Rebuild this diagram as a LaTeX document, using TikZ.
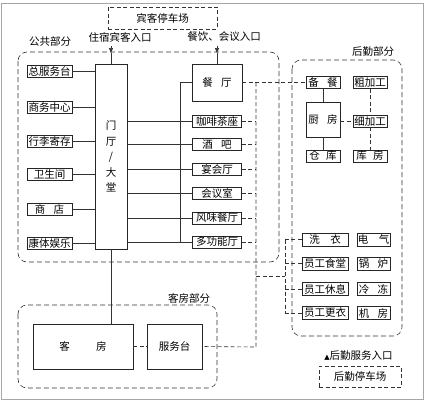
\documentclass[tikz,border=0pt]{standalone}
\usepackage{fontspec}
\newfontfamily\cjk{Noto Sans CJK SC}
\newfontfamily\symfont{DejaVu Sans}
\usetikzlibrary{arrows.meta}

\tikzset{
  unitbox/.style={draw=black!85, line width=0.6pt, inner sep=0pt, font=\cjk\fontsize{10.5}{12}\selectfont},
  lbox/.style={unitbox, minimum width=45pt, minimum height=12pt},
  rbox/.style={unitbox, minimum width=49pt, minimum height=12pt},
  kbox/.style={unitbox, minimum width=34pt, minimum height=12pt},
  wbox/.style={unitbox, minimum width=46pt, minimum height=13pt},
  ebox/.style={unitbox, minimum width=33pt, minimum height=13pt},
  dbox/.style={draw=black!80, line width=0.6pt, dash pattern=on 4pt off 2.5pt, inner sep=0pt, font=\cjk\fontsize{10.5}{12}\selectfont},
  region/.style={draw=black!80, line width=0.6pt, dash pattern=on 5pt off 3pt, rounded corners=9pt},
  tag/.style={inner sep=0pt, font=\cjk\fontsize{10.5}{12}\selectfont},
  cline/.style={draw=black!80, line width=0.6pt},
  dline/.style={draw=black!80, line width=0.6pt, dash pattern=on 4pt off 2.5pt},
  entry/.style={cline, -{Triangle[length=5pt,width=4pt]}}
}

\begin{document}
\begin{tikzpicture}[x=1pt, y=-1pt]
  \useasboundingbox (0,0) rectangle (427,404);
  % Frame
  \draw[gray!70, line width=1.2pt] (1.5,3.5) rectangle (423.5,399.5);

  % Regions
  \draw[region] (18,52) rectangle (279,262);
  \node[tag] (ggbf) at (50,42) {公共部分};
  \draw[region] (292,60) rectangle (402,336);
  \node[tag] (hqbf) at (373,52) {后勤部分};
  \draw[region] (18,305) rectangle (217,388);
  \node[tag] (kfbf) at (189,298) {客房部分};

  % Parking
  \node[dbox, minimum width=109pt, minimum height=22pt] (bktc) at (162.5,18) {宾客停车场};
  \node[dbox, minimum width=82pt, minimum height=21pt] (hqtc) at (360,376.5) {后勤停车场};

  % Lobby
  \node[unitbox, minimum width=32pt, minimum height=185pt, align=center,
        font=\cjk\fontsize{10.5}{15.6}\selectfont] (mt) at (111,156.5) {门\\厅\\/\\大\\堂};
  \foreach \n/\y/\t in {zfwt/71.5/总服务台, swzx/107.5/商务中心, xljc/141.5/行李寄存,
                        wsj/174.5/卫生间, sd/209/商\hspace{0.8em}店, ktyl/243/康体娱乐} {
    \node[lbox] (\n) at (49.5,\y) {\t};
    \draw[cline] (\n) -- (\n -| mt.west);
  }

  % Entrances
  \node[tag] (zsrk) at (120,37) {住宿宾客入口};
  \node[tag] (cyrk) at (224,37) {餐饮、会议入口};
  \coordinate (gateA0) at (111,46);
  \coordinate (gateA) at (111,53);
  \coordinate (gateB0) at (217,46);
  \coordinate (gateB) at (217,53);
  \draw[entry] (gateA0) -- (gateA);
  \draw[entry] (gateB0) -- (gateB);
  \draw[cline] (gateA) -- (mt.north);

  % Restaurants
  \coordinate (busA) at (180,242);
  \coordinate (busB) at (256,347);
  \node[unitbox, minimum width=50pt, minimum height=37pt] (ct) at (217,82.5) {餐\hspace{0.8em}厅};
  \draw[cline] (gateB) -- (ct.north);
  \draw[cline] (ct.west) -| (busA);
  \foreach \n/\y/\t in {kfcz/121.5/咖啡茶座, jb/144.5/酒\hspace{0.8em}吧, yht/169/宴会厅,
                        hys/193.5/会议室, fwct/218/风味餐厅, dgnt/242/多功能厅} {
    \node[rbox] (\n) at (217,\y) {\t};
    \draw[cline] (\n.west -| mt.east) -- (\n.west);
    \draw[dline] (\n.east) -- (\n.east -| busB);
  }

  % Kitchen
  \node[kbox] (bc) at (323,82.5) {备\hspace{0.8em}餐};
  \node[kbox] (cjg) at (370,82.5) {粗加工};
  \node[unitbox, minimum width=34pt, minimum height=35pt] (cf) at (323,119.5) {厨\hspace{0.8em}房};
  \node[kbox] (xjg) at (370,121) {细加工};
  \node[kbox] (ck) at (323,156) {仓\hspace{0.6em}库};
  \node[kbox] (kfang) at (370,156) {库\hspace{0.6em}房};
  \draw[cline] (bc) -- (cf);
  \draw[cline] (cf) -- (ck);
  \draw[dline] (xjg.west -| cf.east) -- (xjg.west);
  \draw[dline] (cjg) -- (xjg);
  \draw[dline] (xjg) -- (kfang);
  \draw[dline] (ct.east) -- (bc.west);

  % Staff and plant
  \coordinate (busC) at (285,276);
  \foreach \n/\m/\y/\t/\s in {xy/dq/239.5/洗\hspace{1em}衣/电\hspace{1em}气,
                              ygst/gl/263.5/员工食堂/锅\hspace{0.8em}炉,
                              ygxx/ld/289/员工休息/冷\hspace{0.8em}冻,
                              yggy/jfang/313/员工更衣/机\hspace{0.8em}房} {
    \node[wbox] (\n) at (325,\y) {\t};
    \node[ebox] (\m) at (373.5,\y) {\s};
    \draw[dline] (\n.west) -- (\n.west -| busC);
  }
  \draw[dline] (xy.west -| busC) -- (yggy.west -| busC);
  \draw[dline] (busC -| busB) -- (busC);
  \node[tag] (hqrk) at (358.5,356) {{\symfont\fontsize{7}{8}\selectfont ▲}后勤服务入口};

  % Guest rooms
  \node[unitbox, minimum width=100pt, minimum height=45pt] (kfroom) at (83,346.5) {客\hspace{2.5em}房};
  \node[unitbox, minimum width=55pt, minimum height=45pt] (fwt) at (174.5,346.5) {服务台};
  \draw[cline] (mt.south) -- (mt.south |- kfroom.north);
  \draw[dline] (kfroom) -- (fwt);
  \draw[dline] (ct.east -| busB) -- (busB) -- (fwt.east);
\end{tikzpicture}
\end{document}
